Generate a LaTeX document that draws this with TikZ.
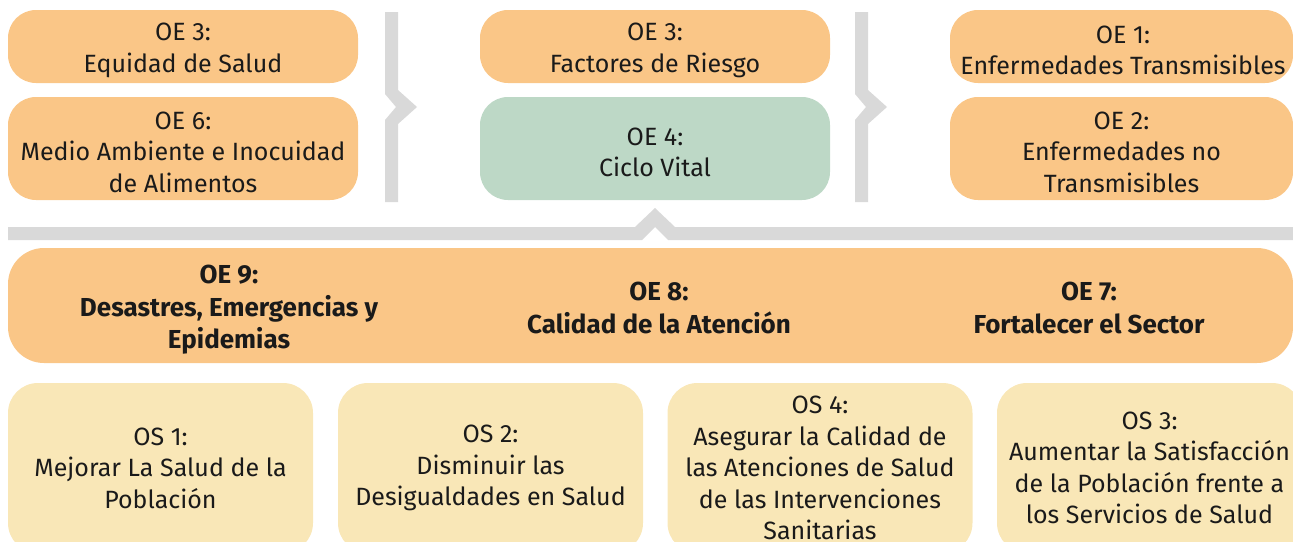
\documentclass[tikz,border=0pt]{standalone}
\usepackage{fontspec}
\setmainfont{Fira Sans}
\definecolor{orng}{HTML}{FAC687}
\definecolor{grn}{HTML}{BDD8C6}
\definecolor{ylw}{HTML}{F9E7B7}
\definecolor{gry}{HTML}{D9D9D9}
\definecolor{txt}{HTML}{1A1A1A}
\begin{document}
\begin{tikzpicture}[x=1pt,y=-1pt,
  box/.style={rectangle,rounded corners=28pt,inner sep=0pt,outer sep=0pt,align=center,text=txt,
    font=\fontsize{25}{31.5}\selectfont},
  topbox/.style={box,fill=orng,minimum width=350pt},
  smallh/.style={minimum height=73pt},
  bigh/.style={minimum height=103pt},
  tt/.style={align=center,text=txt,inner sep=0pt,font=\fontsize{25}{31.5}\selectfont},
  osbox/.style={box,fill=ylw,minimum width=305pt,minimum height=170pt,rounded corners=30pt},
  bartxt/.style={align=center,text=txt,inner sep=0pt,font=\fontsize{26}{32.5}\selectfont\bfseries},
  sep/.style={fill=gry,draw=none}]
\useasboundingbox (0,0) rectangle (1293,541);
\clip (0,0) rectangle (1293,541);
% top row boxes
\node[topbox,smallh] (oe3a) at (183,46.5) {};
\node[topbox,bigh] (oe6) at (183,148.5) {};
\node[topbox,smallh] (oe3b) at (655,46.5) {};
\node[topbox,bigh,fill=grn] (oe4) at (655,148.5) {};
\node[topbox,smallh,minimum width=343pt] (oe1) at (1121.5,46.5) {};
\node[topbox,bigh,minimum width=343pt] (oe2) at (1121.5,148.5) {};
% top row texts
\node[tt] (oe3at) at ([yshift=-4pt]oe3a.center) {OE 3:\\Equidad de Salud};
\node[tt] (oe6t) at ([yshift=-3.5pt]oe6.center) {OE 6:\\Medio Ambiente e Inocuidad\\de Alimentos};
\node[tt] (oe3bt) at ([yshift=-4pt]oe3b.center) {OE 3:\\Factores de Riesgo};
\node[tt] (oe4t) at ([yshift=-4pt]oe4.center) {OE 4:\\Ciclo Vital};
\node[tt] (oe1t) at ([yshift=-4pt,xshift=1.5pt]oe1.center) {OE 1:\\Enfermedades Transmisibles};
\node[tt] (oe2t) at ([yshift=-3.5pt]oe2.center) {OE 2:\\Enfermedades no\\Transmisibles};
% separators
\fill[sep] (385,12) -- (398,12) -- (398,90) -- (417,107) -- (398,124) -- (398,202) -- (385,202) -- (385,120) -- (396,107) -- (385,94) -- cycle;
\fill[sep] (855,12) -- (868,12) -- (868,90) -- (887,107) -- (868,124) -- (868,202) -- (855,202) -- (855,120) -- (866,107) -- (855,94) -- cycle;
\fill[sep] (8,227) -- (635,227) -- (655,208) -- (675,227) -- (1293,227) -- (1293,240) -- (668,240) -- (655,227) -- (642,240) -- (8,240) -- cycle;
% big bar
\node[box,fill=orng,minimum width=1285pt,minimum height=115pt,rounded corners=36pt] (bar) at (650.5,305.5) {};
\node[bartxt] (oe9) at (229,310) {OE 9:\\Desastres, Emergencias y\\Epidemias};
\node[bartxt] (oe8) at (659,308) {OE 8:\\Calidad de la Atención};
\node[bartxt] (oe7) at (1089,308) {OE 7:\\Fortalecer el Sector};
% bottom row
\node[osbox] (os1) at (160.5,468) {OS 1:\\Mejorar La Salud de la\\Población};
\node[osbox] (os2) at (490.5,468) {OS 2:\\Disminuir las\\Desigualdades en Salud};
\node[osbox] (os4) at (820,468) {OS 4:\\Asegurar la Calidad de\\las Atenciones de Salud\\de las Intervenciones\\Sanitarias};
\node[osbox] (os3) at (1149.5,468) {OS 3:\\Aumentar la Satisfacción\\de la Población frente a\\los Servicios de Salud};
\end{tikzpicture}
\end{document}
